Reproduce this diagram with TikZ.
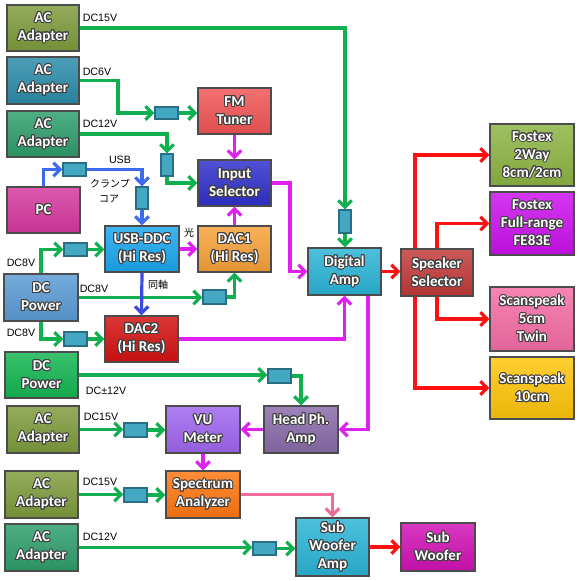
\documentclass[tikz,border=0pt]{standalone}
\usepackage{fontspec}
\setmainfont{Carlito}
\newfontfamily\lblfont{Liberation Sans}
\newfontfamily\jpfont{Noto Sans CJK JP}
\usepackage{contour}
\contourlength{0.75pt}
\usetikzlibrary{arrows.meta,shadows}
\definecolor{colOlive}{HTML}{7F9B3D}
\definecolor{colTeal}{HTML}{2B8CAA}
\definecolor{colGreenA}{HTML}{2E9E6C}
\definecolor{colPC}{HTML}{D6399E}
\definecolor{colFM}{HTML}{F25555}
\definecolor{colIn}{HTML}{3030CC}
\definecolor{colDacA}{HTML}{F7A239}
\definecolor{colUsb}{HTML}{1AA7EE}
\definecolor{colDcp}{HTML}{5B9BD5}
\definecolor{colDacB}{HTML}{D41111}
\definecolor{colDcpB}{HTML}{14B652}
\definecolor{colAmp}{HTML}{2BB4D6}
\definecolor{colSpk}{HTML}{C23A3A}
\definecolor{colFosA}{HTML}{8DB443}
\definecolor{colFosB}{HTML}{CC11EE}
\definecolor{colSsA}{HTML}{F56DA5}
\definecolor{colSsB}{HTML}{FFC50A}
\definecolor{colVu}{HTML}{A066F0}
\definecolor{colHp}{HTML}{8A6BAA}
\definecolor{colSpec}{HTML}{FF7711}
\definecolor{colSubw}{HTML}{D112B5}
\definecolor{cfill}{HTML}{45A8C2}
\definecolor{cbord}{HTML}{2A6E86}
\definecolor{wgreen}{HTML}{10B050}
\definecolor{wblue}{HTML}{3D6BF0}
\definecolor{wblueB}{HTML}{3A4AE0}
\definecolor{wmag}{HTML}{E020F0}
\definecolor{wpink}{HTML}{F06A9A}
\definecolor{wred}{HTML}{FF1010}
\newcommand\wt[1]{\contour{black!75}{#1}}
\tikzset{
  box/.style={draw=black!70, line width=1pt, inner sep=0pt, align=center, text=white,
    font=\bfseries\fontsize{11.3}{13.5}\selectfont,
    drop shadow={opacity=0.3, shadow xshift=1pt, shadow yshift=-1pt}},
  cbox/.style={draw=cbord, fill=cfill, line width=1pt, inner sep=0pt},
  wire/.style={line width=2.4pt, -{Straight Barb[length=5pt,width=10pt]}},
  gw/.style={wire, draw=wgreen},
  bw/.style={wire, draw=wblue},
  bbw/.style={wire, draw=wblueB},
  mw/.style={wire, draw=wmag},
  pw/.style={wire, draw=wpink},
  rw/.style={wire, draw=wred},
  lbl/.style={font=\lblfont\fontsize{8}{9}\selectfont, inner sep=0pt},
  jlbl/.style={font=\jpfont\fontsize{7.5}{9}\selectfont, inner sep=0pt}
}
\newcommand\bx[7]{\node[box, top color=#6!84!white, bottom color=#6!92!black,
  minimum width={(#4-#2)*0.75pt}, minimum height={(#5-#3)*0.75pt}]
  (#1) at ({(#2+#4)/2},{(#3+#5)/2}) {#7};}
\newcommand\cb[5]{\node[cbox, minimum width={(#4-#2)*0.75pt}, minimum height={(#5-#3)*0.75pt}]
  (#1) at ({(#2+#4)/2},{(#3+#5)/2}) {};}
\begin{document}
\begin{tikzpicture}[x=0.75pt, y=-0.75pt]
\useasboundingbox (0,0) rectangle (580,581);
\fill[white] (0,0) rectangle (580,581);
% main boxes
\bx{ac1}{7}{5}{79}{51}{colOlive}{\wt{AC}\\\wt{Adapter}}
\bx{ac2}{7}{57}{79}{104}{colTeal}{\wt{AC}\\\wt{Adapter}}
\bx{ac3}{7}{111}{79}{157}{colGreenA}{\wt{AC}\\\wt{Adapter}}
\bx{pc}{7}{187}{80}{233}{colPC}{\wt{PC}}
\bx{fm}{198}{88}{271}{134}{colFM}{\wt{FM}\\\wt{Tuner}}
\bx{insel}{198}{160}{271}{206}{colIn}{\wt{Input}\\\wt{Selector}}
\bx{dac1}{198}{226}{271}{272}{colDacA}{\wt{DAC1}\\\wt{(Hi Res)}}
\bx{usbddc}{105}{226}{179}{272}{colUsb}{\wt{USB-DDC}\\\wt{(Hi Res)}}
\bx{dcp}{4}{274}{78}{321}{colDcp}{\wt{DC}\\\wt{Power}}
\bx{dac2}{105}{316}{178}{362}{colDacB}{\wt{DAC2}\\\wt{(Hi Res)}}
\bx{dcp2}{5}{352}{78}{398}{colDcpB}{\wt{DC}\\\wt{Power}}
\bx{damp}{308}{248}{381}{295}{colAmp}{\wt{Digital}\\\wt{Amp}}
\bx{spk}{401}{249}{473}{296}{colSpk}{\wt{Speaker}\\\wt{Selector}}
\bx{fos2}{490}{124}{574}{186}{colFosA}{\wt{Fostex}\\\wt{2Way}\\\wt{8cm/2cm}}
\bx{fosfr}{490}{192}{574}{255}{colFosB}{\wt{Fostex}\\\wt{Full-range}\\\wt{FE83E}}
\bx{ss5}{490}{287}{574}{351}{colSsA}{\wt{Scanspeak}\\\wt{5cm}\\\wt{Twin}}
\bx{ss10}{490}{357}{574}{419}{colSsB}{\wt{Scanspeak}\\\wt{10cm}}
\bx{ac4}{7}{406}{79}{453}{colOlive}{\wt{AC}\\\wt{Adapter}}
\bx{vu}{166}{406}{240}{453}{colVu}{\wt{VU}\\\wt{Meter}}
\bx{hpa}{264}{406}{338}{453}{colHp}{\wt{Head Ph.}\\\wt{Amp}}
\bx{ac5}{5}{471}{78}{518}{colOlive}{\wt{AC}\\\wt{Adapter}}
\bx{spec}{166}{471}{240}{518}{colSpec}{\wt{Spectrum}\\\wt{Analyzer}}
\bx{ac6}{5}{524}{78}{571}{colGreenA}{\wt{AC}\\\wt{Adapter}}
\bx{subamp}{296}{518}{369}{576}{colAmp}{\wt{Sub}\\\wt{Woofer}\\\wt{Amp}}
\bx{subw}{401}{523}{475}{571}{colSubw}{\wt{Sub}\\\wt{Woofer}}
% small connector boxes
\cb{c1}{155}{107}{178}{119}
\cb{c2}{161}{154}{173}{176}
\cb{c3}{63}{163}{86}{176}
\cb{c4}{136}{187}{148}{209}
\cb{c5}{64}{243}{87}{256}
\cb{c6}{203}{290}{226}{304}
\cb{c7}{64}{332}{87}{346}
\cb{c8}{339}{210}{351}{233}
\cb{c9}{268}{369}{291}{383}
\cb{c10}{124}{423}{147}{437}
\cb{c11}{124}{488}{147}{502}
\cb{c12}{253}{542}{276}{555}
% bend coordinates
\coordinate (k2) at (118,0);
\coordinate (k4) at (290,0);
\coordinate (k6) at (368,0);
\coordinate (kr1) at (415,0);
\coordinate (kr2) at (437,0);
% green power wires
\draw[gw] (ac1.east) -| (c8.north);
\draw[gw] (c8.south) -- (c8.south |- damp.north);
\draw[gw] (ac2.east) -| (k2 |- c1.west) -- (c1.west);
\draw[gw] (c1.east) -- (c1.east -| fm.west);
\draw[gw] (ac3.east) -| (c2.north);
\draw[gw] (c2.south) |- (insel.west);
\draw[gw] (dcp.north) |- (c5.west);
\draw[gw] (c5.east) -- (c5.east -| usbddc.west);
\draw[gw] (dcp.east) -- (dcp.east -| c6.west);
\draw[gw] (c6.east) -| (dac1.south);
\draw[gw] (dcp.south) |- (c7.west);
\draw[gw] (c7.east) -- (c7.east -| dac2.west);
\draw[gw] (dcp2.east) -- (dcp2.east -| c9.west);
\draw[gw] (c9.east) -| (hpa.north);
\draw[gw] (ac4.east) -- (ac4.east -| c10.west);
\draw[gw] (c10.east) -- (c10.east -| vu.west);
\draw[gw] (ac5.east) -- (ac5.east -| c11.west);
\draw[gw] (c11.east) -- (c11.east -| spec.west);
\draw[gw] (ac6.east) -- (ac6.east -| c12.west);
\draw[gw] (c12.east) -- (c12.east -| subamp.west);
% blue digital wires
\draw[bw] (pc.north) |- (c3.west);
\draw[bw] (c3.east) -| (c4.north);
\draw[bw] (c4.south) -- (usbddc.north);
\draw[bbw] (usbddc.south) -- (dac2.north);
% magenta audio wires
\draw[mw] (fm.south) -- (insel.north);
\draw[mw] (dac1.north) -- (insel.south);
\draw[mw] (usbddc.east) -- (dac1.west);
\draw[mw] (insel.east) -| (k4 |- damp.west) -- (damp.west);
\draw[mw] (dac2.east) -| (damp.south);
\draw[mw] (k6 |- damp.south) |- (hpa.east);
\draw[mw] (hpa.west) -- (vu.east);
\draw[mw] (vu.south) -- (spec.north);
% pink
\draw[pw] (spec.east) -| (subamp.north);
% red speaker wires
\draw[rw] (damp.east) -- (damp.east -| spk.west);
\draw[rw] (kr1 |- spk.north) |- (fos2.west);
\draw[rw] (kr2 |- spk.north) |- (fosfr.west);
\draw[rw] (kr2 |- spk.south) |- (ss5.west);
\draw[rw] (kr1 |- spk.south) |- (ss10.west);
\draw[rw] (subamp.east) -- (subamp.east -| subw.west);
% labels
\node[lbl] (t1) at (100,18) {DC15V};
\node[lbl] (t2) at (97,72) {DC6V};
\node[lbl] (t3) at (100,124) {DC12V};
\node[lbl] (t4) at (120,160) {USB};
\node[jlbl] (t5) at (110,184) {クランプ};
\node[jlbl] (t6) at (109,199) {コア};
\node[jlbl] (t7) at (189,233) {光};
\node[lbl] (t8) at (21,263) {DC8V};
\node[lbl] (t9) at (94,289) {DC8V};
\node[jlbl] (t10) at (158,285) {同軸};
\node[lbl] (t11) at (21,333) {DC8V};
\node[lbl] (t12) at (106,391) {DC±12V};
\node[lbl] (t13) at (101,417) {DC15V};
\node[lbl] (t14) at (100,482) {DC15V};
\node[lbl] (t15) at (100,537) {DC12V};
\end{tikzpicture}
\end{document}
